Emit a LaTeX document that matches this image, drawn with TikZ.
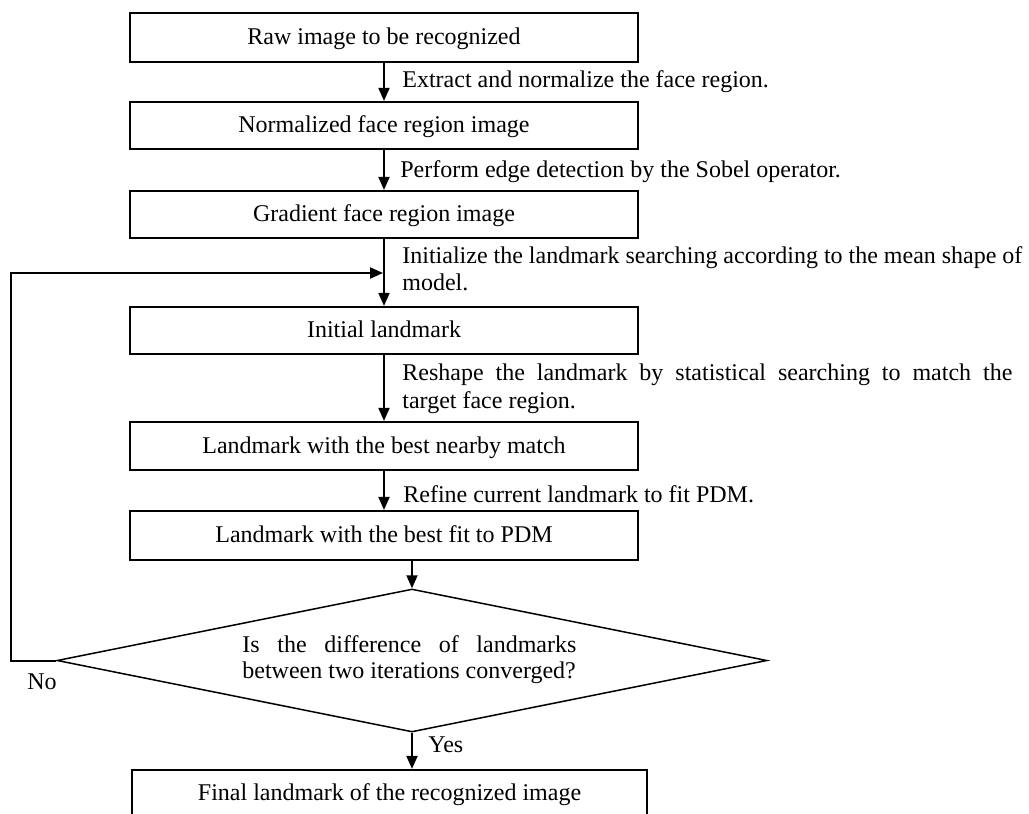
\documentclass[tikz,border=0pt]{standalone}
\usepackage{fontspec}
\setmainfont{Liberation Serif}
\usetikzlibrary{arrows.meta,shapes.geometric}
\begin{document}
\begin{tikzpicture}[x=0.5pt,y=-0.5pt,
  every node/.style={font=\fontsize{12pt}{13.5pt}\selectfont, inner sep=0pt},
  box/.style={draw, line width=1.1pt, minimum width=254pt, anchor=center, text height=0.8em, text depth=0.1em},
  arr/.style={line width=1pt, -{Triangle[length=6.5pt,width=5.5pt]}},
  lbl/.style={anchor=base west},
  para/.style={anchor=north west, align=left},
  dia/.style={draw, diamond, line width=0.75pt, minimum width=355pt, minimum height=71.5pt},
]
\useasboundingbox (0,0) rectangle (1029,814);
\node[box, minimum height=24.5pt] (raw) at (384,37.5) {Raw image to be recognized};
\node[box, minimum height=23.5pt] (norm) at (384,125.5) {Normalized face region image};
\node[box, minimum height=23.5pt] (grad) at (384,214.5) {Gradient face region image};
\node[box, minimum height=23.5pt] (init) at (384,330.5) {Initial landmark};
\node[box, minimum height=24pt] (near) at (384,446) {Landmark with the best nearby match};
\node[box, minimum height=24.5pt] (pdm) at (384,535.5) {Landmark with the best fit to PDM};
\node[dia] (dec) at (412,660.5) {};
\node[box, minimum width=257.5pt, minimum height=23pt] (fin) at (389.5,793) {Final landmark of the recognized image};

\node[lbl] (l1) at (402,87) {Extract and normalize the face region.};
\node[lbl] (l2) at (400,177) {Perform edge detection by the Sobel operator.};
\node[para] (l3) at (402,246.6) {\makebox[310pt][s]{Initialize the landmark searching according to the mean shape of}\\model.};
\node[para, font=\fontsize{12pt}{14pt}\selectfont] (l4) at (402,363.6) {\makebox[305pt][s]{Reshape the landmark by statistical searching to match the}\\target face region.};
\node[lbl] (l5) at (403,502) {Refine current landmark to fit PDM.};
\node[para, font=\fontsize{12pt}{13pt}\selectfont] (dt) at (242,635.6) {\makebox[167pt][s]{Is the difference of landmarks}\\between two iterations converged?};
\node[lbl] (no) at (27,689) {No};
\node[lbl] (yes) at (428,752) {Yes};

\draw[arr] (raw) -- (norm);
\draw[arr] (norm) -- (grad);
\draw[arr] (grad) -- (init);
\draw[arr] (init) -- (near);
\draw[arr] (near) -- (pdm);
\draw[arr] (pdm.south -| dec.north) -- (dec.north);
\draw[arr] (dec.south) -- (dec.south |- fin.north);
\coordinate (lc) at (11,273);
\coordinate (lt) at (384,273);
\draw[arr, shorten >=0.5pt] (dec.west) -| (lc) -- (lt);
\end{tikzpicture}
\end{document}
